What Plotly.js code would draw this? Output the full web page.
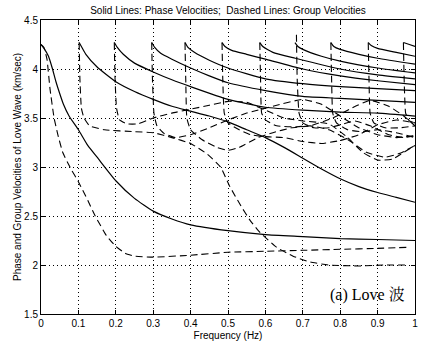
<!DOCTYPE html>
<html><head><meta charset="utf-8">
<script src="https://cdn.plot.ly/plotly-3.0.1.min.js"></script>
<style>html,body{margin:0;padding:0;background:#fff}#chart{width:427px;height:358px}</style>
</head><body><div id="chart"></div>
<script>
// ---- Phase velocities (solid lines), frequency in Hz, velocity in km/s ----
const ph0F = [0, 0.008, 0.02, 0.03, 0.04, 0.05, 0.06, 0.075, 0.1, 0.125, 0.15, 0.2, 0.25, 0.3, 0.35, 0.4, 0.5, 0.6, 0.7, 0.8, 0.9, 1.0];
const ph0V = [4.25, 4.21, 4.13, 4.01, 3.87, 3.75, 3.64, 3.52, 3.38, 3.22, 3.1, 2.86, 2.68, 2.55, 2.47, 2.41, 2.35, 2.31, 2.29, 2.27, 2.26, 2.25];
const ph1F = [0.102, 0.108, 0.12, 0.15, 0.2, 0.25, 0.3, 0.35, 0.4, 0.45, 0.5, 0.55, 0.6, 0.65, 0.7, 0.75, 0.8, 0.85, 0.9, 0.95, 1.0];
const ph1V = [4.27, 4.23, 4.15, 4.02, 3.87, 3.77, 3.69, 3.62, 3.57, 3.52, 3.46, 3.38, 3.3, 3.2, 3.09, 2.98, 2.88, 2.8, 2.74, 2.69, 2.64];
const ph2F = [0.196, 0.204, 0.22, 0.25, 0.3, 0.35, 0.4, 0.5, 0.6, 0.7, 0.8, 0.9, 1.0];
const ph2V = [4.27, 4.22, 4.15, 4.06, 3.97, 3.89, 3.82, 3.69, 3.61, 3.58, 3.56, 3.55, 3.52];
const ph3F = [0.296, 0.304, 0.32, 0.35, 0.4, 0.45, 0.5, 0.6, 0.7, 0.8, 0.9, 1.0];
const ph3V = [4.27, 4.22, 4.16, 4.1, 4.01, 3.93, 3.86, 3.78, 3.72, 3.7, 3.68, 3.66];
const ph4F = [0.385, 0.393, 0.41, 0.45, 0.5, 0.6, 0.7, 0.8, 0.9, 1.0];
const ph4V = [4.27, 4.22, 4.17, 4.09, 4.01, 3.9, 3.85, 3.82, 3.8, 3.78];
const ph5F = [0.484, 0.492, 0.51, 0.55, 0.6, 0.7, 0.8, 0.9, 1.0];
const ph5V = [4.27, 4.23, 4.19, 4.15, 4.1, 4.0, 3.93, 3.88, 3.84];
const ph6F = [0.585, 0.593, 0.62, 0.68, 0.8, 0.9, 1.0];
const ph6V = [4.27, 4.23, 4.17, 4.11, 4.0, 3.94, 3.9];
const ph7F = [0.679, 0.687, 0.7, 0.75, 0.8, 0.9, 1.0];
const ph7V = [4.27, 4.23, 4.2, 4.13, 4.08, 4.01, 3.96];
const ph8F = [0.775, 0.783, 0.8, 0.85, 0.9, 1.0];
const ph8V = [4.27, 4.23, 4.2, 4.15, 4.11, 4.05];
const ph9F = [0.875, 0.883, 0.9, 0.95, 1.0];
const ph9V = [4.27, 4.24, 4.21, 4.17, 4.13];
const ph10F = [0.969, 0.985, 1.0];
const ph10V = [4.27, 4.25, 4.23];

// ---- Group velocities (dashed lines) ----
const gr0F = [0, 0.008, 0.016, 0.024, 0.035, 0.045, 0.058, 0.08, 0.1, 0.125, 0.145, 0.175, 0.2, 0.225, 0.25, 0.3, 0.4, 0.5, 0.6, 0.7, 0.8, 0.9, 0.98];
const gr0V = [4.25, 4.22, 4.1, 3.8, 3.5, 3.33, 3.15, 2.98, 2.85, 2.66, 2.5, 2.3, 2.19, 2.12, 2.09, 2.08, 2.1, 2.13, 2.14, 2.15, 2.16, 2.17, 2.18];
const gr1F = [0.102, 0.104, 0.108, 0.115, 0.13, 0.17, 0.25, 0.3, 0.35, 0.4, 0.445, 0.48, 0.505, 0.535, 0.56, 0.586, 0.63, 0.674, 0.72, 0.77, 0.85, 0.92, 0.98];
const gr1V = [4.27, 3.9, 3.6, 3.5, 3.42, 3.38, 3.36, 3.35, 3.3, 3.24, 3.13, 3.0, 2.8, 2.6, 2.45, 2.33, 2.18, 2.09, 2.03, 2.0, 1.99, 2.0, 2.0];
const gr2F = [0.196, 0.198, 0.202, 0.21, 0.23, 0.26, 0.3, 0.35, 0.4, 0.45, 0.5, 0.55, 0.6, 0.65, 0.7, 0.77, 0.82, 0.86, 0.9, 0.94, 0.97, 1.0];
const gr2V = [4.27, 3.9, 3.6, 3.48, 3.44, 3.44, 3.5, 3.55, 3.59, 3.63, 3.67, 3.66, 3.58, 3.5, 3.47, 3.44, 3.3, 3.15, 3.07, 3.08, 3.15, 3.22];
const gr3F = [0.296, 0.298, 0.302, 0.31, 0.33, 0.36, 0.4, 0.45, 0.5, 0.55, 0.62, 0.7, 0.75, 0.8, 0.85, 0.9, 0.95, 1.0];
const gr3V = [4.27, 3.9, 3.55, 3.42, 3.34, 3.3, 3.33, 3.4, 3.48, 3.55, 3.62, 3.69, 3.64, 3.52, 3.4, 3.33, 3.3, 3.32];
const gr4F = [0.385, 0.387, 0.39, 0.4, 0.43, 0.47, 0.5, 0.53, 0.58, 0.62, 0.67, 0.72, 0.78, 0.83, 0.88, 0.93, 0.97, 1.0];
const gr4V = [4.27, 3.9, 3.5, 3.38, 3.28, 3.2, 3.17, 3.2, 3.3, 3.35, 3.4, 3.42, 3.5, 3.6, 3.68, 3.62, 3.52, 3.42];
const gr5F = [0.484, 0.486, 0.49, 0.5, 0.53, 0.56, 0.6, 0.65, 0.7, 0.75, 0.8, 0.85, 0.9, 0.95, 1.0];
const gr5V = [4.27, 3.9, 3.55, 3.45, 3.38, 3.33, 3.31, 3.3, 3.26, 3.24, 3.27, 3.33, 3.43, 3.48, 3.45];
const gr6F = [0.585, 0.587, 0.59, 0.6, 0.63, 0.68, 0.72, 0.77, 0.82, 0.87, 0.92, 0.96, 1.0];
const gr6V = [4.27, 3.9, 3.55, 3.48, 3.42, 3.41, 3.42, 3.38, 3.28, 3.15, 3.1, 3.14, 3.22];
const gr7F = [0.683, 0.685, 0.69, 0.7, 0.73, 0.77, 0.8, 0.84, 0.88, 0.93, 0.97, 1.0];
const gr7V = [4.35, 3.9, 3.55, 3.45, 3.4, 3.4, 3.43, 3.47, 3.42, 3.33, 3.3, 3.32];
const gr8F = [0.775, 0.777, 0.78, 0.79, 0.82, 0.86, 0.9, 0.95, 1.0];
const gr8V = [4.27, 3.9, 3.55, 3.45, 3.38, 3.36, 3.38, 3.35, 3.3];
const gr9F = [0.875, 0.877, 0.88, 0.89, 0.92, 0.96, 1.0];
const gr9V = [4.27, 3.9, 3.55, 3.45, 3.4, 3.4, 3.42];
const gr10F = [0.969, 0.971, 0.975, 0.985, 1.0];
const gr10V = [4.27, 3.9, 3.55, 3.47, 3.45];

// ---- Axis ticks and texts ----
const xTicks = [0, 0.1, 0.2, 0.3, 0.4, 0.5, 0.6, 0.7, 0.8, 0.9, 1];
const xTickText = ['0', '0.1', '0.2', '0.3', '0.4', '0.5', '0.6', '0.7', '0.8', '0.9', '1'];
const yTicks = [1.5, 2, 2.5, 3, 3.5, 4, 4.5];
const yTickText = ['1.5', '2', '2.5', '3', '3.5', '4', '4.5'];
const titleText = 'Solid Lines: Phase Velocities;&nbsp;&nbsp;Dashed Lines: Group Velocities';
const xTitle = 'Frequency (Hz)';
const yTitle = 'Phase and Group Velocities of Love Wave (km/sec)';
const label = '(a) Love 波';

const phaseSets = [[ph0F, ph0V], [ph1F, ph1V], [ph2F, ph2V], [ph3F, ph3V], [ph4F, ph4V], [ph5F, ph5V], [ph6F, ph6V], [ph7F, ph7V], [ph8F, ph8V], [ph9F, ph9V], [ph10F, ph10V]];
const groupSets = [[gr0F, gr0V], [gr1F, gr1V], [gr2F, gr2V], [gr3F, gr3V], [gr4F, gr4V], [gr5F, gr5V], [gr6F, gr6V], [gr7F, gr7V], [gr8F, gr8V], [gr9F, gr9V], [gr10F, gr10V]];

const traces = [];
phaseSets.forEach(([f, v]) => traces.push({
  x: f, y: v, type: 'scatter', mode: 'lines', hoverinfo: 'skip',
  line: {color: '#000', width: 1.2, shape: 'spline', smoothing: 0.5}
}));
groupSets.forEach(([f, v]) => traces.push({
  x: f, y: v, type: 'scatter', mode: 'lines', hoverinfo: 'skip',
  line: {color: '#000', width: 1.1, dash: '7px,4px', shape: 'spline', smoothing: 0.4}
}));

const axisCommon = {
  ticks: 'inside', ticklen: 4, tickwidth: 1, tickcolor: '#000',
  showgrid: true, gridcolor: '#000', gridwidth: 1, griddash: '1px,3px',
  showline: true, linecolor: '#000', linewidth: 1, mirror: 'allticks',
  zeroline: false, automargin: false,
  tickfont: {family: 'Liberation Sans, Arial, sans-serif', size: 10, color: '#000'}
};

const layout = {
  width: 427, height: 358,
  margin: {l: 41, r: 12, t: 20, b: 44},
  paper_bgcolor: '#fff', plot_bgcolor: '#fff',
  showlegend: false,
  font: {family: 'Liberation Sans, Arial, sans-serif', size: 10, color: '#000'},
  title: {text: titleText, x: 0.534, xref: 'container', xanchor: 'center', y: 0.972, yref: 'container', yanchor: 'middle',
          font: {family: 'Liberation Sans, Arial, sans-serif', size: 10, color: '#000'}},
  xaxis: Object.assign({}, axisCommon, {
    range: [0, 1], tickvals: xTicks, ticktext: xTickText,
    title: {text: xTitle, standoff: 3, font: {size: 10, color: '#000'}}
  }),
  yaxis: Object.assign({}, axisCommon, {
    range: [1.5, 4.5], tickvals: yTicks, ticktext: yTickText,
    title: {text: yTitle, standoff: 0, font: {size: 10, color: '#000'}}
  }),
  annotations: [{
    text: label, x: 0.874, y: 1.69, xref: 'x', yref: 'y', showarrow: false,
    font: {family: 'Liberation Serif, "Noto Serif CJK SC", "Noto Sans CJK SC", serif', size: 16, color: '#000'}
  }]
};

Plotly.newPlot('chart', traces, layout, {staticPlot: true, displayModeBar: false});
</script>
</body></html>
